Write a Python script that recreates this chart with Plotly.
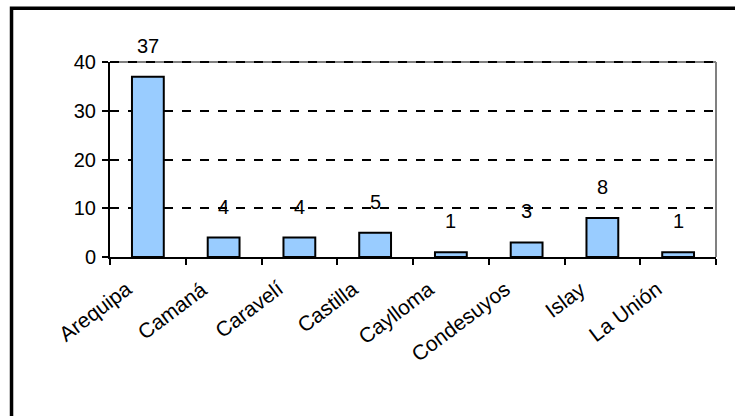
import plotly.graph_objects as go

# Provincias y número de casos
provincias = ["Arequipa", "Camaná", "Caravelí", "Castilla", "Caylloma",
              "Condesuyos", "Islay", "La Unión"]
casos = [37, 4, 4, 5, 1, 3, 8, 1]
y_ticks = [0, 10, 20, 30, 40]

FONT = "Liberation Sans, Arial, sans-serif"

fig = go.Figure()
fig.add_trace(go.Bar(
    x=provincias, y=casos,
    marker=dict(color="#99CCFF", line=dict(color="black", width=2)),
    width=0.42,
    hoverinfo="x+y",
))

# Etiquetas de valor encima de cada barra
for p, v in zip(provincias, casos):
    fig.add_annotation(x=p, y=v, text=str(v), showarrow=False,
                       yanchor="bottom", yshift=18,
                       font=dict(family=FONT, size=20, color="black"))

# Nombres de provincia inclinados bajo el eje
for p in provincias:
    fig.add_annotation(x=p, y=0, text=p, showarrow=False, textangle=-37,
                       xanchor="right", yanchor="top",
                       xshift=-10, yshift=-17,
                       font=dict(family=FONT, size=21, color="black"))

# Marco exterior del gráfico
fig.add_shape(type="rect", xref="paper", yref="paper",
              x0=-0.1625, x1=1.2, y0=-1.0, y1=1.2755,
              line=dict(color="black", width=3.5), layer="below")
# Borde gris del área de trazado (arriba y derecha)
fig.add_shape(type="line", xref="paper", yref="paper",
              x0=0, x1=1, y0=1, y1=1, line=dict(color="#808080", width=2),
              layer="below")
fig.add_shape(type="line", xref="paper", yref="paper",
              x0=1, x1=1, y0=0, y1=1, line=dict(color="#808080", width=2),
              layer="below")
# Línea de cuadrícula superior, discontinua sobre el borde gris
fig.add_shape(type="line", xref="paper", yref="paper",
              x0=0, x1=1, y0=1, y1=1,
              line=dict(color="black", width=2, dash="dash"),
              layer="above")

fig.update_layout(
    width=735, height=416,
    margin=dict(l=110, r=19, t=62, b=159),
    paper_bgcolor="white", plot_bgcolor="white",
    showlegend=False,
    font=dict(family=FONT, color="black"),
    xaxis=dict(
        type="category",
        showticklabels=False,
        showline=True, linecolor="black", linewidth=2,
        ticks="outside", ticklen=6, tickwidth=2, tickcolor="black",
        tickson="boundaries",
        showgrid=False,
        range=[-0.5, 7.5],
    ),
    yaxis=dict(
        range=[0, 40],
        tickvals=y_ticks,
        tickfont=dict(family=FONT, size=20, color="black"),
        showline=True, linecolor="black", linewidth=2,
        ticks="outside", ticklen=6, tickwidth=2, tickcolor="black",
        showgrid=True, gridcolor="black", gridwidth=2,
        griddash="dash",
        zeroline=False,
        ticklabelstandoff=2,
    ),
)

fig.write_html("out.html")
